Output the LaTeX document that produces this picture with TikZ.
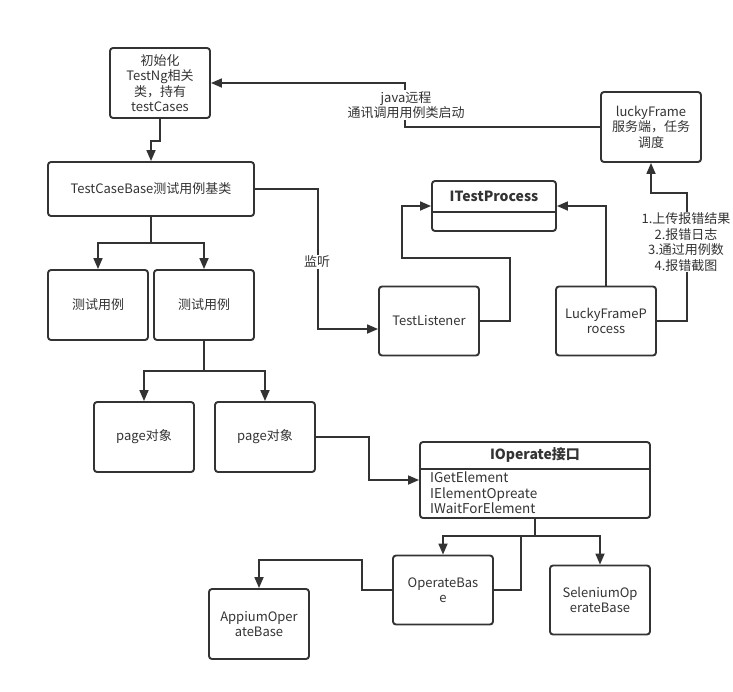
\documentclass[tikz,border=0pt]{standalone}
\usepackage{fontspec}
\setmainfont{Noto Sans CJK SC}
\usetikzlibrary{positioning,arrows.meta,calc}
\definecolor{ink}{HTML}{333333}

\begin{document}
\begin{tikzpicture}[
  x=1pt, y=-1pt,
  font=\fontsize{13}{15.5}\selectfont,
  box/.style={draw=ink, line width=1.9pt, rounded corners=3pt, minimum width=100pt,
              minimum height=70pt, align=center, text=ink, inner sep=2pt},
  cls/.style={box},
  arr/.style={-{Triangle[length=11pt, width=9pt]}, line width=1.7pt, draw=ink},
  link/.style={line width=1.7pt, draw=ink},
  title/.style={font=\bfseries\fontsize{14}{16}\selectfont, text=ink},
  elabel/.style={fill=white, text=ink, inner sep=1pt, align=center}
]
\useasboundingbox (0,0) rectangle (733,691);
% Left column: runner and test cases
\node[box] (init) at (160,83) {初始化\\TestNg相关\\类，持有\\testCases};
\node[box, minimum width=206pt, minimum height=54pt] (base) at (151,189) {TestCaseBase测试用例基类};
\node[box] (case1) at (98,305) {测试用例};
\node[box] (case2) at (204,305) {测试用例};
\node[box] (page1) at (144,437) {page对象};
\node[box] (page2) at (265,437) {page对象};
% Right side: listener and server
\node[box, minimum height=69pt] (listen) at (429,321) {TestListener};
\node[box, minimum height=69pt] (lfproc) at (606,321) {LuckyFrameP\\rocess};
\node[box] (server) at (651,127) {luckyFrame\\服务端，任务\\调度};
\node[cls, minimum width=124pt, minimum height=50pt] (itp) at (494,206) {};
\node[title] (itptitle) at ($(itp.north)+(0,16)$) {ITestProcess};
\draw[link] ($(itp.north west)+(0,32)$) -- ($(itp.north east)+(0,32)$);
% Operate interface and implementations
\node[cls, minimum width=230pt, minimum height=76pt] (iop) at (535,480) {};
\node[title] (ioptitle) at ($(iop.north)+(0,14)$) {IOperate接口};
\draw[link] ($(iop.north west)+(0,28)$) -- ($(iop.north east)+(0,28)$);
\node[anchor=north west, align=left, text=ink, inner sep=0pt,
      font=\fontsize{13.5}{15.5}\selectfont] (ioplist) at (430,472)
      {IGetElement\\IElementOpreate\\IWaitForElement};
\node[box, minimum height=69pt] (opbase) at (443,590) {OperateBas\\e};
\node[box, minimum height=69pt] (selen) at (600,600) {SeleniumOp\\erateBase};
\node[box] (appium) at (259,624) {AppiumOper\\ateBase};
% Connectors
\draw[arr] (server.west) -- ++(-195,0) |- (init.east);
\node[elabel] (remote) at (406,105) {java远程\\通讯调用用例类启动};
\draw[arr] (init.south) -- ++(0,22) -| (base.north);
\draw[arr] (base.east) -- ++(63,0) |- ([yshift=-8pt]listen.west);
\node[elabel] (listenlbl) at (317,262) {监听};
\draw[arr] (base.south) -- ++(0,26) -| (case1.north);
\draw[arr] (base.south) -- ++(0,26) -| (case2.north);
\draw[arr] (case2.south) -- ++(0,30) -| (page1.north);
\draw[arr] (case2.south) -- ++(0,30) -| (page2.north);
\draw[arr] (page2.east) -- ++(53,0) |- (iop.west);
\draw[arr] (listen.east) -- ++(30,0) -- ++(0,-63) -- ++(-108,0) |- (itp.west);
\draw[arr] (lfproc.north) |- (itp.east);
\draw[arr] (lfproc.east) -- ++(30,0) -- ++(0,-128) -| (server.south);
\node[elabel] (uplbl) at (686,242) {1.上传报错结果\\2.报错日志\\3.通过用例数\\4.报错截图};
\draw[arr] (iop.south) -- ++(0,17) -| (opbase.north);
\draw[arr] (iop.south) -- ++(0,17) -| (selen.north);
\draw[link] (opbase.east) -| ($(iop.south)+(-14,17)$);
\draw[arr] (opbase.west) -- ++(-30,0) -- ++(0,-30) -| (appium.north);
\end{tikzpicture}
\end{document}
